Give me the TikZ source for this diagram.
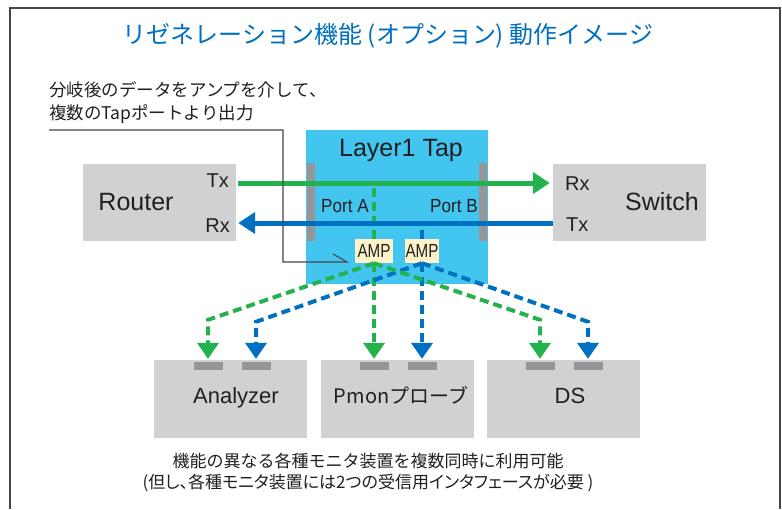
\documentclass[tikz,border=0pt]{standalone}
\usepackage{fontspec}
\usepackage{graphicx}
\setmainfont{Liberation Sans}
\newfontfamily\jp{Noto Sans CJK JP}
\newfontfamily\jpp[RawFeature=+palt]{Noto Sans CJK JP}
\usetikzlibrary{arrows.meta}
\definecolor{tgreen}{RGB}{36,178,76}
\definecolor{tblue}{RGB}{0,112,192}
\definecolor{tapblue}{RGB}{66,198,240}
\definecolor{boxgray}{RGB}{208,209,211}
\definecolor{bargray}{RGB}{150,150,153}
\definecolor{ampyellow}{RGB}{255,243,204}
\definecolor{textdark}{RGB}{35,31,32}
\definecolor{framegray}{RGB}{70,70,70}
\tikzset{
  box/.style={fill=boxgray, inner sep=0pt, minimum width=153pt, minimum height=77pt},
  bar/.style={fill=bargray, inner sep=0pt, minimum width=8pt, minimum height=78pt},
  portbox/.style={fill=bargray, inner sep=0pt, minimum width=29pt, minimum height=8pt},
  ampbox/.style={fill=ampyellow, inner sep=0pt, minimum height=24pt, text=textdark, font=\fontsize{19}{22}\selectfont},
  lab/.style={inner sep=0pt, text=textdark},
  solidg/.style={draw=tgreen, line width=5pt},
  solidb/.style={draw=tblue, line width=5pt},
  dashg/.style={draw=tgreen, line width=4pt, dash pattern=on 9pt off 5pt},
  dashb/.style={draw=tblue, line width=4pt, dash pattern=on 9pt off 5pt},
  bigtipg/.style={-{Triangle[length=17pt,width=21pt]}},
  bigtipd/.style={-{Triangle[length=16pt,width=21pt]}},
}
\begin{document}
\begin{tikzpicture}[x=1pt,y=-1pt]
\useasboundingbox (0,0) rectangle (782,509);
\fill[white] (0,0) rectangle (782,509);
\draw[framegray, line width=1.5pt] (10,509) -- (10,8) -- (780,8) -- (780,509);

% title
\node[inner sep=0pt, text=tblue, font=\fontsize{24}{28}\selectfont] (title) at (388,36) {\jp リゼネレーション機能 (オプション) 動作イメージ};

% callout text
\node[lab, anchor=west, align=left, font=\fontsize{17.5}{23}\selectfont] (note) at (49,102.5) {\jp 分岐後のデータをアンプを介して、\\\jp 複数のTapポートより出力};

% boxes
\node[box] (router) at (159.5,202.5) {};
\node[box] (switch) at (629.5,202.5) {};
\node[fill=tapblue, inner sep=0pt, minimum width=182pt, minimum height=154pt] (tap) at (397,207) {};
\node[bar] (barL) at (311,202) {};
\node[bar] (barR) at (483,202) {};
\node[ampbox, minimum width=38pt] (amp1) at (374,251) {\scalebox{0.8}[1]{AMP}};
\node[ampbox, minimum width=34pt] (amp2) at (422,251) {\scalebox{0.8}[1]{AMP}};

\node[box, minimum height=78pt] (ana) at (230.5,399) {};
\node[box, minimum height=78pt] (pmon) at (397.5,399) {};
\node[box, minimum height=78pt] (ds) at (563.5,399) {};
\node[portbox] (ap1) at (208,366) {};
\node[portbox] (ap2) at (256,366) {};
\node[portbox] (pp1) at (374,366) {};
\node[portbox] (pp2) at (422,366) {};
\node[portbox] (dp1) at (540,366) {};
\node[portbox] (dp2) at (588,366) {};

\coordinate (gl) at ([yshift=19.5pt]router.east);
\coordinate (bl) at ([yshift=-20.5pt]router.east);

% dashed taps
\draw[dashg] (amp1.north) -- (amp1.north |- gl);
\draw[dashb] (amp2.north) -- (amp2.north |- bl);
\draw[dashg, bigtipd] (amp1.south) -- ([yshift=3pt]pp1.north);
\draw[dashb, bigtipd] (amp2.south) -- ([yshift=3pt]pp2.north);
\draw[dashg, bigtipd] (amp1.south) -- ([yshift=42pt]ap1.north) -- ([yshift=3pt]ap1.north);
\draw[dashb, bigtipd] (amp2.south) -- ([yshift=40pt]ap2.north) -- ([yshift=3pt]ap2.north);
\draw[dashg, bigtipd] (amp1.south) -- ([yshift=42pt]dp1.north) -- ([yshift=3pt]dp1.north);
\draw[dashb, bigtipd] (amp2.south) -- ([yshift=40pt]dp2.north) -- ([yshift=3pt]dp2.north);

% solid links
\draw[solidg, bigtipg, shorten >=3pt] ([xshift=2pt]gl) -- (switch.west |- gl);
\draw[solidb, bigtipg, shorten >=2pt] (switch.west |- bl) -- (bl);

% callout pointer
\draw[framegray, line width=1.1pt] (note.south west |- 0,130) -- (283,130) -- (283,262) -- (347,262) -- (333,254);

% labels
\node[lab, anchor=base, font=\fontsize{25}{30}\selectfont] (routerlab) at (136,210) {Router};
\node[lab, anchor=base east, font=\fontsize{20}{24}\selectfont] (rtx) at (229,187) {Tx};
\node[lab, anchor=base east, font=\fontsize{20}{24}\selectfont] (rrx) at (230,232) {Rx};
\node[lab, anchor=base west, font=\fontsize{20}{24}\selectfont] (srx) at (565,190) {Rx};
\node[lab, anchor=base west, font=\fontsize{20}{24}\selectfont] (stx) at (566,231) {Tx};
\node[lab, anchor=base, font=\fontsize{25}{30}\selectfont] (switchlab) at (662,210) {Switch};
\node[lab, anchor=base, font=\fontsize{25}{30}\selectfont] (taplab) at (401,156) {Layer1 Tap};
\node[lab, anchor=base, font=\fontsize{19}{22}\selectfont] (porta) at (345,212) {\scalebox{0.9}[1]{Port A}};
\node[lab, anchor=base, font=\fontsize{19}{22}\selectfont] (portb) at (454,212) {\scalebox{0.9}[1]{Port B}};
\node[lab, anchor=base, font=\fontsize{22}{26}\selectfont] (analab) at (236,403) {Analyzer};
\node[lab, anchor=base, font=\fontsize{20}{24}\selectfont] (pmonlab) at (401,403) {\jp Pmonプローブ};
\node[lab, anchor=base, font=\fontsize{22}{26}\selectfont] (dslab) at (570,403) {DS};

% bottom text
\node[lab, align=center, font=\fontsize{17}{21}\selectfont] (foot) at (368,472) {\jp 機能の異なる各種モニタ装置を複数同時に利用可能\\\jpp (但し、各種モニタ装置には2つの受信用インタフェースが必要 )};
\end{tikzpicture}
\end{document}
